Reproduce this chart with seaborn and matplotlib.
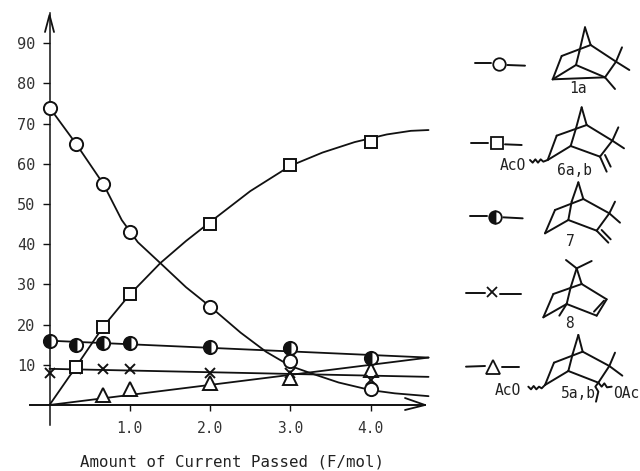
import matplotlib
matplotlib.use("Agg")
import matplotlib.pyplot as plt
from matplotlib.transforms import Affine2D
import seaborn as sns

sns.set_style("white")
MONO = "DejaVu Sans Mono"
INK = "#111111"

# ---------- data ----------
amount = [0, 0.33, 0.67, 1, 2, 3, 4]
circle_pts = [74, 65, 55, 43, 24.5, 11, 4]
square_pts = [None, 9.5, 19.5, 27.5, 45, 59.8, 65.5]
half_pts = [16, 15, 15.5, 15.5, 14.5, 14.2, 11.8]
cross_pts = [8, 9, 9, 9, 8, 8, 6.3]
tri_x = [0.67, 1, 2, 3, 4]
tri_pts = [2.5, 4, 5.5, 6.7, 8.8]

circle_cx = [0, 0.33, 0.67, 0.9, 1.1, 1.38, 1.7, 2, 2.38, 2.7, 3, 3.27, 3.6, 4, 4.3, 4.72]
circle_cy = [74, 65, 55, 46, 40.5, 35.3, 29.3, 24.5, 18, 13.2, 9.7, 7.8, 5.6, 3.7, 2.9, 2.2]
square_cx = [0, 0.33, 0.67, 1, 1.38, 1.7, 2, 2.5, 3, 3.4, 3.8, 4.2, 4.5, 4.72]
square_cy = [0, 9.5, 19.5, 27.5, 35.3, 40.8, 45.5, 53.2, 59.5, 62.8, 65.4, 67.3, 68.2, 68.4]
half_cx = [0, 4.72]
half_cy = [16, 11.8]
cross_cx = [0, 4.72]
cross_cy = [9, 7]
tri_cx = [0, 4.72]
tri_cy = [0, 11.8]

y_ticks = [10, 20, 30, 40, 50, 60, 70, 80, 90]
x_ticks = [1, 2, 3, 4]
x_labels = ["1.0", "2.0", "3.0", "4.0"]
x_title = "Amount of Current Passed (F/mol)"

# ---------- decorative structure drawings (zoom-crop coordinates) ----------
S_1A = [[(405,22),(388,95)],[(405,22),(422,75)],[(335,108),(422,75)],[(335,108),(308,178)],
        [(308,178),(378,135)],[(378,135),(388,95)],[(378,135),(465,172)],[(308,178),(465,172)],
        [(422,75),(498,125)],[(498,125),(465,172)],[(516,82),(498,125),(538,150)],[(465,172),(495,207)]]
S_6 = [[(395,262),(378,325)],[(395,262),(410,315)],[(320,347),(410,315)],[(320,347),(293,420)],
       [(293,420),(362,378)],[(362,378),(378,325)],[(362,378),(450,410)],[(410,315),(487,362)],
       [(487,362),(450,410)],[(505,322),(487,362),(522,385)],[(450,410),(470,455)],[(465,405),(482,440)],
       [(240,420),(248,428),(256,418),(264,428),(272,418),(280,425),(293,420)]]
S_7 = [[(385,-83),(365,-25)],[(385,-83),(400,-33)],[(315,0),(400,-33)],[(315,0),(285,70)],
       [(285,70),(355,30)],[(355,30),(365,-25)],[(355,30),(440,62)],[(400,-33),(478,10)],
       [(478,10),(440,62)],[(495,-25),(478,10),(510,38)],[(440,62),(475,98)],[(455,60),(482,88)]]
S_8 = [[(348,150),(380,175),(425,153)],[(380,175),(362,232)],[(380,175),(395,222)],[(310,252),(395,222)],
       [(310,252),(280,322)],[(280,322),(350,282)],[(350,282),(362,232)],[(350,282),(440,317)],
       [(395,222),(470,268)],[(470,268),(440,317)],[(462,272),(432,305)],[(350,282),(328,317)]]
S_5 = [[(385,375),(368,432)],[(385,375),(398,425)],[(312,458),(398,425)],[(312,458),(285,525)],
       [(285,525),(355,483)],[(355,483),(368,432)],[(355,483),(445,518)],[(398,425),(478,468)],
       [(478,468),(445,518)],[(495,428),(478,468),(517,497)],
       [(235,530),(243,538),(251,528),(259,538),(267,530),(275,535),(285,525)],
       [(445,518),(455,530),(463,520),(471,532),(485,530)],[(445,518),(436,530),(445,545),(438,575)]]

KEY = [("o", {}, 133, [(75,130),(122,130)], [(172,135),(225,137)], 146, 0, 9),
       ("s", {}, 370, [(62,368),(115,368)], [(165,373),(215,375)], 140, 0, 8.5),
       ("o", {"fillstyle": "left"}, 20, [(60,17),(110,17)], [(160,22),(218,25)], 135, 1, 9),
       ("x", {}, 247, [(48,250),(105,250)], [(150,252),(212,252)], 125, 1, 7),
       ("^", {}, 470, [(48,470),(105,468)], [(155,470),(208,470)], 128, 1, 10.5)]

# ---------- figure ----------
fig = plt.figure(figsize=(6.4, 4.71), dpi=100)
ax = fig.add_axes([0, 0, 1, 1])
ax.set_xlim(-49.5 / 80.3, (640 - 49.5) / 80.3)
ax.set_ylim(-(471 - 405) / 4.02, 405 / 4.02)
ax.patch.set_alpha(0)

px = Affine2D().scale(1 / 640, -1 / 471).translate(0, 1) + fig.transFigure

def curve(x, y):
    sns.lineplot(x=x, y=y, ax=ax, color=INK, lw=1.3, errorbar=None, sort=False, zorder=2)

for cx, cy in [(circle_cx, circle_cy), (square_cx, square_cy), (half_cx, half_cy),
               (cross_cx, cross_cy), (tri_cx, tri_cy)]:
    curve(cx, cy)

def points(x, y, marker, size, **kw):
    style = dict(color=INK, linestyle="none", marker=marker, markersize=size, markeredgecolor=INK,
                 markeredgewidth=1.4, errorbar=None, sort=False, zorder=4, markerfacecolor="white")
    style.update(kw)
    sns.lineplot(x=x, y=y, ax=ax, **style)

points(tri_x, tri_pts, "^", 9.5, zorder=3)
points(amount, cross_pts, "x", 7, zorder=3)
points(amount, half_pts, "o", 9.5, fillstyle="left", markerfacecolor=INK, markerfacecoloralt="white", zorder=4)
points(amount[1:], square_pts[1:], "s", 8.5, zorder=5)
points(amount, circle_pts, "o", 9.5, zorder=6)

# axes
for side in ("top", "right"):
    ax.spines[side].set_visible(False)
ax.spines["left"].set_position(("data", 0))
ax.spines["bottom"].set_position(("data", 0))
ax.spines["left"].set_bounds(-5, 97.5)
ax.spines["bottom"].set_bounds(-0.245, 4.68)
ax.spines["left"].set_color(INK)
ax.spines["bottom"].set_color(INK)
ax.spines["left"].set_linewidth(1.1)
ax.spines["bottom"].set_linewidth(1.4)
ax.set_xticks(x_ticks, x_labels, family=MONO, fontsize=10.5, color="#333333")
ax.set_yticks(y_ticks, [str(v) for v in y_ticks], family=MONO, fontsize=11, color="#333333")
ax.tick_params(axis="x", direction="out", length=4.5, width=1, color=INK, pad=7, bottom=True)
ax.tick_params(axis="y", direction="out", length=5.2, width=1, color=INK, pad=5, left=True)

def seg(points_, lw=1.3, z=2):
    ax.plot([p[0] for p in points_], [p[1] for p in points_], transform=px, color=INK, lw=lw,
            solid_capstyle="round", zorder=z, clip_on=False)

seg([(45, 32), (49.5, 15), (54, 32)], lw=1.3)
seg([(405, 398), (425, 405), (405, 410)], lw=1.3)

def draw(struct, ox, oy):
    for s in struct:
        seg([(ox + a / 3, oy + b / 3) for a, b in s], lw=1.4)

draw(S_1A, 450, 20)
draw(S_6, 450, 20)
draw(S_7, 450, 210)
draw(S_8, 450, 210)
draw(S_5, 450, 210)

for marker, extra, my, left, right, mx, zone, msize in KEY:
    oy = 210 if zone else 20
    draw([left, right], 450, oy)
    ax.plot([450 + mx / 3], [oy + my / 3], transform=px, linestyle="none", marker=marker, markersize=msize,
            markeredgecolor=INK, markeredgewidth=1.3, markerfacecolor=INK if extra else "white",
            markerfacecoloralt="white", zorder=5, clip_on=False, **extra)

def label(text, zx, zy, oy, size=10.5):
    ax.text(450 + zx / 3, oy + zy / 3, text, transform=px, ha="center", va="center",
            family=MONO, fontsize=size, color="#222222")

label("1a", 385, 205, 20)
label("AcO", 190, 438, 20)
label("6a,b", 372, 452, 20)
label("7", 360, 95, 210)
label("8", 360, 340, 210)
label("AcO", 175, 542, 210)
label("5a,b", 385, 552, 210)
label("OAc", 530, 552, 210)

ax.text(232, 462, x_title, transform=px, ha="center", va="center", family=MONO, fontsize=11.3, color="#222222")

ax.set_xlabel("")
ax.set_ylabel("")
fig.savefig("out.png", dpi=100, facecolor="white")
